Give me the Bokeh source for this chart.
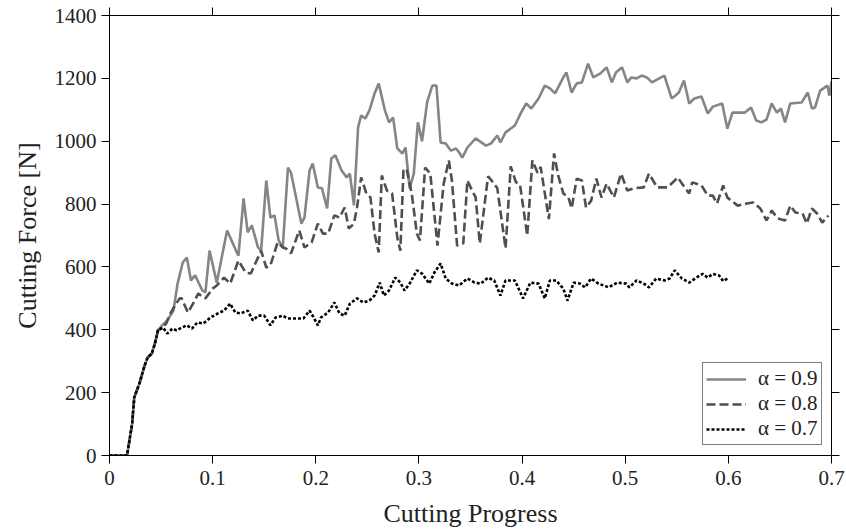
from bokeh.plotting import figure
from bokeh.models import Range1d, LinearAxis, FixedTicker, CustomJSTickFormatter, Legend, LegendItem
from bokeh.embed import file_html
from bokeh.resources import INLINE

# ---- data ----
x_start = [0.0, 0.017, 0.022, 0.024, 0.029, 0.034, 0.037, 0.041, 0.044, 0.047]
y_start = [0, 0, 102, 185, 229, 286, 312, 324, 356, 398]

x_a09 = [0.051, 0.056, 0.062, 0.066, 0.071, 0.075, 0.079, 0.083, 0.090, 0.093, 0.097, 0.104, 0.114, 0.117,
         0.124, 0.125, 0.130, 0.134, 0.138, 0.144, 0.147, 0.152, 0.156, 0.160, 0.164, 0.168, 0.173, 0.176,
         0.186, 0.189, 0.194, 0.197, 0.202, 0.206, 0.211, 0.215, 0.219, 0.225, 0.230, 0.233, 0.237, 0.241,
         0.244, 0.248, 0.252, 0.257, 0.261, 0.267, 0.271, 0.275, 0.279, 0.284, 0.287, 0.291, 0.295, 0.299,
         0.303, 0.308, 0.313, 0.317, 0.321, 0.326, 0.331, 0.336, 0.339, 0.342, 0.347, 0.355, 0.365, 0.370,
         0.376, 0.379, 0.384, 0.393, 0.399, 0.404, 0.409, 0.416, 0.422, 0.427, 0.432, 0.440, 0.443, 0.448,
         0.453, 0.458, 0.464, 0.469, 0.476, 0.482, 0.487, 0.491, 0.497, 0.502, 0.506, 0.511, 0.516, 0.521,
         0.526, 0.533, 0.538, 0.545, 0.549, 0.552, 0.557, 0.562, 0.567, 0.574, 0.580, 0.585, 0.594, 0.599,
         0.604, 0.616, 0.622, 0.627, 0.632, 0.637, 0.642, 0.647, 0.651, 0.655, 0.660, 0.671, 0.677, 0.681,
         0.684, 0.689, 0.696, 0.698, 0.700]
y_a09 = [414, 430, 461, 547, 614, 630, 557, 573, 525, 519, 652, 550, 716, 694,
         642, 636, 818, 710, 732, 662, 652, 875, 757, 764, 684, 662, 916, 900,
         738, 757, 907, 929, 853, 850, 786, 945, 955, 907, 885, 897, 796, 1044,
         1082, 1072, 1098, 1152, 1184, 1098, 1060, 1075, 977, 961, 980, 850, 897, 1060,
         1000, 1125, 1177, 1177, 996, 993, 970, 977, 964, 948, 980, 1009, 986, 993,
         1018, 996, 1028, 1050, 1091, 1120, 1104, 1136, 1177, 1168, 1152, 1203, 1219, 1155,
         1184, 1187, 1247, 1203, 1216, 1235, 1187, 1219, 1235, 1187, 1203, 1200, 1209, 1203,
         1187, 1200, 1209, 1136, 1146, 1155, 1193, 1120, 1136, 1142, 1088, 1110, 1120, 1040,
         1091, 1091, 1107, 1066, 1060, 1069, 1120, 1091, 1104, 1060, 1120, 1123, 1155, 1104,
         1107, 1161, 1177, 1145, 1190]

x_a08 = [0.051, 0.055, 0.059, 0.064, 0.068, 0.070, 0.076, 0.081, 0.086, 0.093, 0.100, 0.104, 0.111, 0.117,
         0.125, 0.132, 0.137, 0.147, 0.152, 0.156, 0.163, 0.168, 0.171, 0.176, 0.184, 0.189, 0.196, 0.202,
         0.207, 0.212, 0.218, 0.223, 0.228, 0.232, 0.237, 0.240, 0.244, 0.249, 0.253, 0.257, 0.261, 0.264,
         0.269, 0.274, 0.279, 0.282, 0.285, 0.288, 0.293, 0.298, 0.301, 0.306, 0.311, 0.318, 0.324, 0.329,
         0.332, 0.337, 0.343, 0.347, 0.352, 0.355, 0.359, 0.367, 0.372, 0.376, 0.384, 0.389, 0.394, 0.398,
         0.405, 0.410, 0.415, 0.418, 0.426, 0.431, 0.435, 0.440, 0.445, 0.448, 0.453, 0.458, 0.462, 0.467,
         0.472, 0.477, 0.482, 0.489, 0.496, 0.502, 0.508, 0.518, 0.523, 0.531, 0.541, 0.548, 0.551, 0.555,
         0.562, 0.565, 0.574, 0.580, 0.585, 0.589, 0.595, 0.599, 0.609, 0.618, 0.624, 0.631, 0.637, 0.642,
         0.648, 0.655, 0.660, 0.665, 0.672, 0.676, 0.681, 0.686, 0.691, 0.697]
y_a08 = [407, 420, 452, 480, 500, 500, 455, 483, 515, 500, 531, 541, 566, 547,
         620, 582, 579, 652, 598, 605, 678, 662, 659, 643, 716, 662, 678, 738,
         706, 706, 764, 757, 789, 722, 738, 789, 885, 834, 821, 706, 646, 891,
         843, 834, 694, 652, 907, 913, 834, 706, 684, 916, 897, 668, 865, 939,
         875, 668, 675, 875, 840, 821, 675, 888, 869, 850, 659, 920, 870, 862,
         700, 939, 900, 918, 752, 961, 891, 834, 821, 786, 881, 875, 789, 811,
         881, 821, 865, 821, 897, 843, 850, 853, 897, 853, 853, 875, 885, 865,
         834, 869, 859, 827, 827, 802, 859, 821, 795, 802, 805, 786, 748, 779,
         754, 748, 795, 773, 770, 738, 786, 770, 741, 763]

x_a07 = [0.052, 0.056, 0.061, 0.065, 0.070, 0.075, 0.080, 0.085, 0.091, 0.098, 0.105, 0.111, 0.117, 0.122,
         0.127, 0.134, 0.139, 0.144, 0.150, 0.156, 0.161, 0.168, 0.173, 0.181, 0.188, 0.194, 0.198, 0.202,
         0.205, 0.212, 0.218, 0.223, 0.228, 0.233, 0.240, 0.246, 0.252, 0.257, 0.262, 0.266, 0.271, 0.277,
         0.282, 0.286, 0.291, 0.298, 0.303, 0.310, 0.315, 0.321, 0.326, 0.332, 0.339, 0.347, 0.354, 0.360,
         0.367, 0.373, 0.379, 0.384, 0.393, 0.401, 0.408, 0.416, 0.422, 0.427, 0.433, 0.440, 0.444, 0.450,
         0.456, 0.461, 0.467, 0.474, 0.484, 0.492, 0.501, 0.504, 0.511, 0.518, 0.523, 0.530, 0.538, 0.543,
         0.548, 0.555, 0.562, 0.569, 0.575, 0.580, 0.585, 0.591, 0.595, 0.599]
y_a07 = [407, 388, 404, 398, 407, 414, 404, 423, 420, 439, 452, 461, 483, 455,
         452, 461, 430, 445, 445, 414, 439, 445, 436, 436, 436, 461, 439, 414,
         439, 455, 487, 452, 445, 483, 500, 487, 493, 509, 550, 509, 525, 566,
         550, 525, 547, 589, 579, 547, 582, 611, 563, 547, 541, 563, 550, 547,
         566, 557, 509, 557, 557, 500, 550, 547, 500, 557, 557, 531, 493, 550,
         547, 535, 563, 547, 535, 550, 547, 535, 557, 547, 535, 563, 557, 563,
         589, 563, 550, 566, 578, 566, 578, 573, 555, 563]

labels = ["α = 0.9", "α = 0.8", "α = 0.7"]
x_ticks = [0.0, 0.1, 0.2, 0.3, 0.4, 0.5, 0.6, 0.7]
y_ticks = [0, 200, 400, 600, 800, 1000, 1200, 1400]

FONT = "Liberation Serif"
TXT = "#222222"

p = figure(width=846, height=530, output_backend="svg", toolbar_location=None,
           x_range=Range1d(0, 0.7), y_range=Range1d(0, 1400),
           min_border_left=109, min_border_right=15, min_border_top=15, min_border_bottom=75)
p.grid.visible = False
p.outline_line_color = "black"
p.background_fill_color = "white"
p.border_fill_color = "white"

r09 = p.line(x_start + x_a09, y_start + y_a09, line_color="#858585", line_width=2.6)
r08 = p.line(x_start + x_a08, y_start + y_a08, line_color="#4f4f4f", line_width=2.6, line_dash="9 4")
r07 = p.line(x_start + x_a07, y_start + y_a07, line_color="#000000", line_width=2.6, line_dash="3 2")

bottom = p.below[0]
left = p.left[0]

bottom.ticker = FixedTicker(ticks=x_ticks)
bottom.formatter = CustomJSTickFormatter(code="return tick == 0 ? '0' : tick.toFixed(1);")
bottom.axis_label = "Cutting Progress"
left.ticker = FixedTicker(ticks=y_ticks)
left.axis_label = "Cutting Force [N]"

blank = CustomJSTickFormatter(code="return '';")
top = LinearAxis(ticker=FixedTicker(ticks=x_ticks), formatter=blank, major_label_standoff=0)
right = LinearAxis(ticker=FixedTicker(ticks=y_ticks), formatter=blank, major_label_standoff=0)
p.add_layout(top, "above")
p.add_layout(right, "right")

for ax in [bottom, left, top, right]:
    ax.axis_line_color = "black"
    ax.axis_line_width = 1
    ax.major_tick_line_color = "black"
    ax.major_tick_out = 8
    ax.major_tick_in = 0
    ax.minor_tick_line_color = None
    ax.major_label_text_font = FONT
    ax.major_label_text_color = TXT
    ax.major_label_text_font_size = "21px"
    ax.axis_label_text_font = FONT
    ax.axis_label_text_font_style = "normal"
    ax.axis_label_text_color = TXT
    ax.axis_label_text_font_size = "26px"

bottom.major_label_standoff = 7
bottom.axis_label_standoff = 11
left.major_label_standoff = 5
left.axis_label_standoff = 10

legend = Legend(items=[LegendItem(label=labels[0], renderers=[r09]),
                       LegendItem(label=labels[1], renderers=[r08]),
                       LegendItem(label=labels[2], renderers=[r07])],
                location=(593, 10))
legend.label_text_font = FONT
legend.label_text_font_size = "21px"
legend.label_text_color = TXT
legend.border_line_color = "black"
legend.border_line_width = 1
legend.background_fill_color = "white"
legend.background_fill_alpha = 1
legend.glyph_width = 40
legend.glyph_height = 20
legend.label_height = 20
legend.label_standoff = 12
legend.padding = 3
legend.spacing = 0
legend.margin = 0
p.add_layout(legend, "center")

open("out.html", "w").write(file_html(p, INLINE))
